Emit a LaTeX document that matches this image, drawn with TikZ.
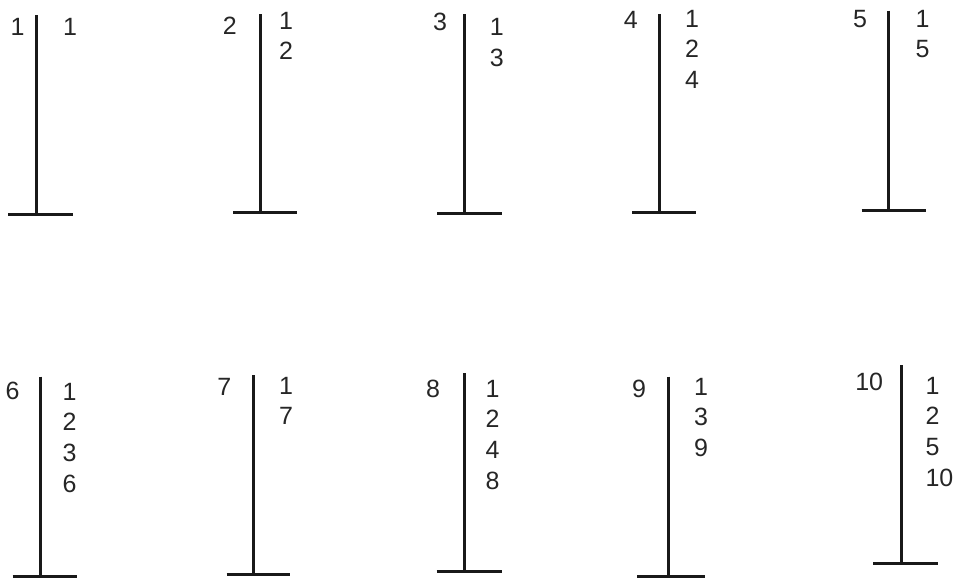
\documentclass[tikz,border=0pt]{standalone}
\usepackage{fontspec}
\setmainfont{Liberation Sans}
\begin{document}
\begin{tikzpicture}[x=1pt,y=-1pt,
  post/.style={line width=3pt,black!90},
  lab/.style={inner sep=0pt,outer sep=0pt,font=\fontsize{25}{30.7}\selectfont,align=left,text=black!85},
  numl/.style={lab,anchor=north},
  divs/.style={lab,anchor=north west}]
\useasboundingbox (0,0) rectangle (956,579);
% post 1
\coordinate (t1) at (36.5,15); \coordinate (b1) at (36.5,214);
\coordinate (l1) at (8,214); \coordinate (r1) at (73,214);
% post 2
\coordinate (t2) at (260,14); \coordinate (b2) at (260,212.3);
\coordinate (l2) at (233,212.3); \coordinate (r2) at (297,212.3);
% post 3
\coordinate (t3) at (464.3,14); \coordinate (b3) at (464.3,213);
\coordinate (l3) at (437,213); \coordinate (r3) at (502,213);
% post 4
\coordinate (t4) at (659,14); \coordinate (b4) at (659,212.3);
\coordinate (l4) at (632,212.3); \coordinate (r4) at (696,212.3);
% post 5
\coordinate (t5) at (888.3,10.7); \coordinate (b5) at (888.3,210);
\coordinate (l5) at (861.7,210); \coordinate (r5) at (925.7,210);
% post 6
\coordinate (t6) at (40,376.7); \coordinate (b6) at (40,576);
\coordinate (l6) at (12.7,576); \coordinate (r6) at (76.7,576);
% post 7
\coordinate (t7) at (253.3,375); \coordinate (b7) at (253.3,574);
\coordinate (l7) at (226.7,574); \coordinate (r7) at (290,574);
% post 8
\coordinate (t8) at (464.3,373.3); \coordinate (b8) at (464.3,571.7);
\coordinate (l8) at (436.7,571.7); \coordinate (r8) at (501.7,571.7);
% post 9
\coordinate (t9) at (668.3,376.7); \coordinate (b9) at (668.3,576);
\coordinate (l9) at (637,576); \coordinate (r9) at (705,576);
% post 10
\coordinate (t10) at (901,365); \coordinate (b10) at (901,563.3);
\coordinate (l10) at (873.3,563.3); \coordinate (r10) at (937.7,563.3);
\foreach \i in {1,...,10}{
  \draw[post] (t\i) -- (b\i);
  \draw[post] (l\i) -- (r\i);
}
% numbers
\node[numl] (n1) at (17.6,18.3) {1};
\node[numl] (n2) at (229.7,16.7) {2};
\node[numl] (n3) at (440,13.3) {3};
\node[numl] (n4) at (630.8,11.7) {4};
\node[numl] (n5) at (860,10) {5};
\node[numl] (n6) at (12.7,381.7) {6};
\node[numl] (n7) at (224.2,378.3) {7};
\node[numl] (n8) at (433,380) {8};
\node[numl] (n9) at (639,380) {9};
\node[numl] (n10) at (869.2,373.3) {10};
% divisors
\node[divs] (d1) at (63.2,18.3) {1};
\node[divs] (d2) at (279,12) {1\\2};
\node[divs] (d3) at (489.8,18.3) {1\\3};
\node[divs] (d4) at (685,10) {1\\2\\4};
\node[divs] (d5) at (915.7,10) {1\\5};
\node[divs] (d6) at (62.7,383) {1\\2\\3\\6};
\node[divs] (d7) at (279,377) {1\\7};
\node[divs] (d8) at (485.7,380) {1\\2\\4\\8};
\node[divs] (d9) at (694,378) {1\\3\\9};
\node[divs] (d10) at (925.5,377) {1\\2\\5\\10};
\end{tikzpicture}
\end{document}
